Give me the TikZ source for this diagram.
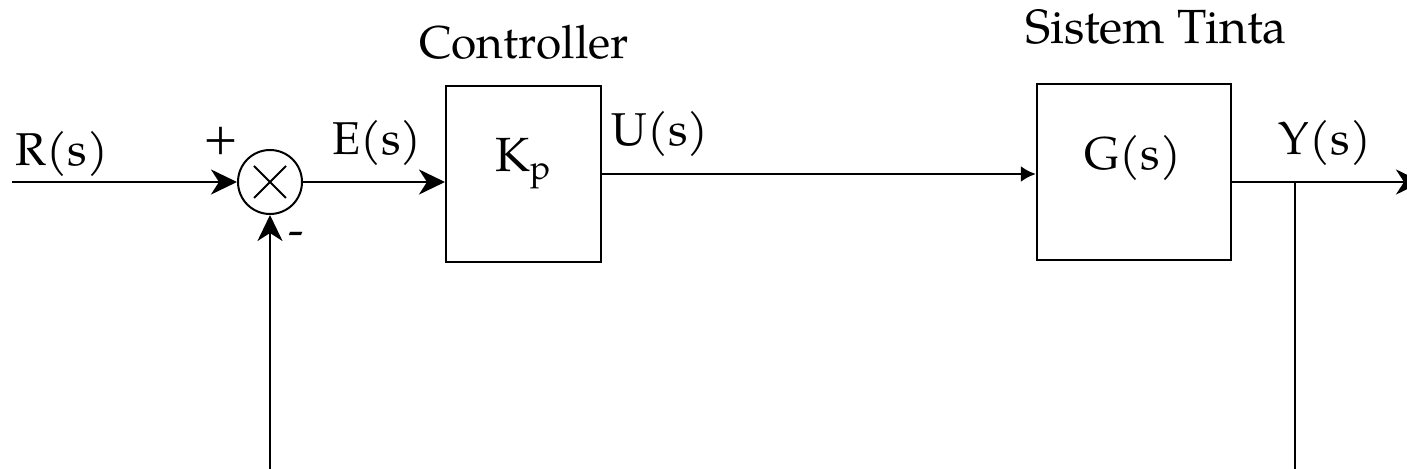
\documentclass[tikz,border=0pt]{standalone}
\usepackage{fontspec}
\setmainfont{TeX Gyre Pagella}
\usetikzlibrary{arrows.meta}
\begin{document}
\begin{tikzpicture}[x=0.5pt,y=-0.5pt,
  line/.style={line width=1.35pt},
  block/.style={draw, line width=1pt, inner sep=0pt, minimum height=88pt},
  lbl/.style={font=\fontsize{23}{28}\selectfont, inner sep=0pt},
  big/.style={font=\fontsize{24}{29}\selectfont, inner sep=0pt},
  bigarrow/.style={-{Stealth[length=13pt,width=12.5pt,inset=4pt]}},
  smallarrow/.style={-{Latex[length=7.5pt,width=8pt]}},
]
\useasboundingbox (0,0) rectangle (1407,469);
% summing junction
\node[draw, circle, line width=1pt, minimum size=32pt, inner sep=0pt] (sum) at (270,182) {};
\draw[line width=0.9pt] (sum.center) ++(-16,-16) -- ++(32,32);
\draw[line width=0.9pt] (sum.center) ++(16,-16) -- ++(-32,32);
% blocks
\node[block, minimum width=77.5pt] (kp) at (523.5,174) {};
\node[block, minimum width=97pt] (g) at (1133.8,172.5) {};
% texts
\node[big, anchor=base] (kpt) at (524,172) {K\textsubscript{p}};
\node[lbl, anchor=base] (gt) at (1133,170) {G(s)};
\node[lbl, anchor=base] (rt) at (62,166) {R(s)};
\node[lbl, anchor=base] (et) at (377,155) {E(s)};
\node[lbl, anchor=base] (ut) at (660,146) {U(s)};
\node[lbl, anchor=base] (yt) at (1325,155) {Y(s)};
\node[lbl, anchor=base] (ctrl) at (524,59) {Controller};
\node[big, anchor=base west] (sist) at (1025,44) {Sistem Tinta};
\node[lbl] (plus) at (221,141) {+};
\node[lbl] (minus) at (296,239) {-};
% connectors
\coordinate (rin) at (12,182);
\draw[line, bigarrow] (rin) -- (sum.west);
\draw[line, bigarrow] (sum.east) -- (sum.east -| kp.west);
\draw[line, smallarrow] (kp.east) -- (kp.east -| g.west);
\coordinate (gout) at (g.east |- sum);
\coordinate (yout) at (1422,182);
\draw[line, bigarrow] (gout) -- (yout);
\coordinate (ybr) at (1295,182);
\coordinate (ybot) at (1295,469);
\draw[line] (ybr) -- (ybot);
\coordinate (fbot) at (270,469);
\draw[line, bigarrow] (fbot) -- (sum.south);
\end{tikzpicture}
\end{document}
